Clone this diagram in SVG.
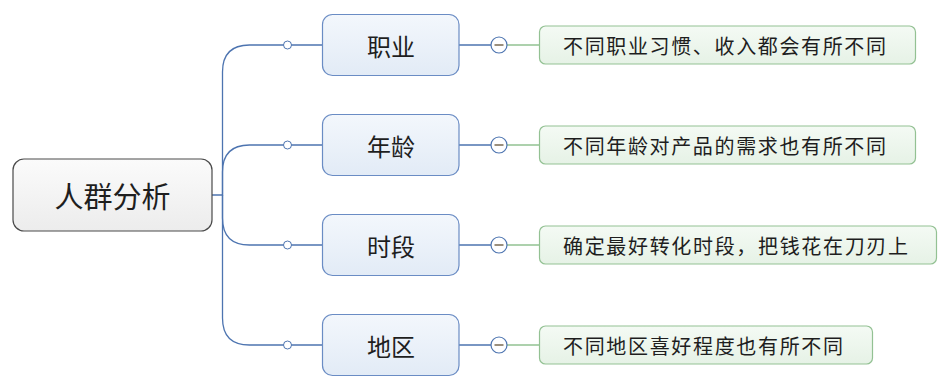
<svg xmlns="http://www.w3.org/2000/svg" width="952" height="391" viewBox="0 0 952 391">
<defs>
<linearGradient id="gRoot" x1="0" y1="0" x2="0" y2="1"><stop offset="0" stop-color="#fbfbfb"/><stop offset="1" stop-color="#ececec"/></linearGradient>
<linearGradient id="gBranch" x1="0" y1="0" x2="0" y2="1"><stop offset="0" stop-color="#f3f7fc"/><stop offset="1" stop-color="#e2ebf6"/></linearGradient>
<linearGradient id="gLeaf" x1="0" y1="0" x2="0" y2="1"><stop offset="0" stop-color="#f4faf4"/><stop offset="1" stop-color="#e6f2e6"/></linearGradient>
<style>
text{font-family:"Noto Sans CJK SC","Liberation Sans",sans-serif;fill:#1e1e1e;text-anchor:middle;dominant-baseline:central}
.root{fill:url(#gRoot);stroke:#4a4a4a;stroke-width:1.2}
.branch{fill:url(#gBranch);stroke:#6a8cc4;stroke-width:1.2}
.leaf{fill:url(#gLeaf);stroke:#93c193;stroke-width:1.2}
.bl{fill:none;stroke:#4d74b0;stroke-width:1.3}
.gl{fill:none;stroke:#92c292;stroke-width:1.3}
.dot{fill:#fff;stroke:#4d74b0;stroke-width:1}
.col{fill:#fff;stroke:#4d74b0;stroke-width:1.2}
.minus{stroke:#7a6a50;stroke-width:1.5}
.t1{font-size:29px}.t2{font-size:24px}.t3{font-size:20px;text-anchor:start}
</style>
</defs>
<g id="connectors">
<path class="bl" d="M212,195 H222.5 V72 Q222.5,45 249.5,45 H322"/>
<path class="bl" d="M222.5,195 V172 Q222.5,145 249.5,145 H322"/>
<path class="bl" d="M222.5,195 V218 Q222.5,245 249.5,245 H322"/>
<path class="bl" d="M222.5,195 V318 Q222.5,345 249.5,345 H322"/>
<circle class="dot" cx="287.5" cy="45" r="4"/>
<circle class="dot" cx="287.5" cy="145" r="4"/>
<circle class="dot" cx="287.5" cy="245" r="4"/>
<circle class="dot" cx="287.5" cy="345" r="4"/>
<path class="bl" d="M459,45 H491 M459,145 H491 M459,245 H491 M459,345 H491"/>
<path class="gl" d="M507,45 H539 M507,145 H539 M507,245 H539 M507,345 H539"/>
<circle class="col" cx="499" cy="45" r="8"/><path class="minus" d="M494.5,45 H503.5"/>
<circle class="col" cx="499" cy="145" r="8"/><path class="minus" d="M494.5,145 H503.5"/>
<circle class="col" cx="499" cy="245" r="8"/><path class="minus" d="M494.5,245 H503.5"/>
<circle class="col" cx="499" cy="345" r="8"/><path class="minus" d="M494.5,345 H503.5"/>
</g>
<g id="root"><rect class="root" x="13" y="159" width="199" height="72" rx="11"/><text class="t1" x="112.5" y="195">人群分析</text></g>
<g id="n1"><rect class="branch" x="322.5" y="14.5" width="136.5" height="61" rx="10"/><text class="t2" x="391" y="45">职业</text></g>
<g id="n2"><rect class="branch" x="322.5" y="114.5" width="136.5" height="61" rx="10"/><text class="t2" x="391" y="145">年龄</text></g>
<g id="n3"><rect class="branch" x="322.5" y="214.5" width="136.5" height="61" rx="10"/><text class="t2" x="391" y="245">时段</text></g>
<g id="n4"><rect class="branch" x="322.5" y="314.5" width="136.5" height="61" rx="10"/><text class="t2" x="391" y="345">地区</text></g>
<g id="l1"><rect class="leaf" x="539.5" y="26" width="376" height="38" rx="6"/><text class="t3" x="563" y="45" textLength="323">不同职业习惯、收入都会有所不同</text></g>
<g id="l2"><rect class="leaf" x="539.5" y="126" width="376" height="38" rx="6"/><text class="t3" x="563" y="145" textLength="323">不同年龄对产品的需求也有所不同</text></g>
<g id="l3"><rect class="leaf" x="539.5" y="226" width="397" height="38" rx="6"/><text class="t3" x="563" y="245" textLength="345">确定最好转化时段，把钱花在刀刃上</text></g>
<g id="l4"><rect class="leaf" x="539.5" y="326" width="333" height="38" rx="6"/><text class="t3" x="563" y="345" textLength="280">不同地区喜好程度也有所不同</text></g>
</svg>
